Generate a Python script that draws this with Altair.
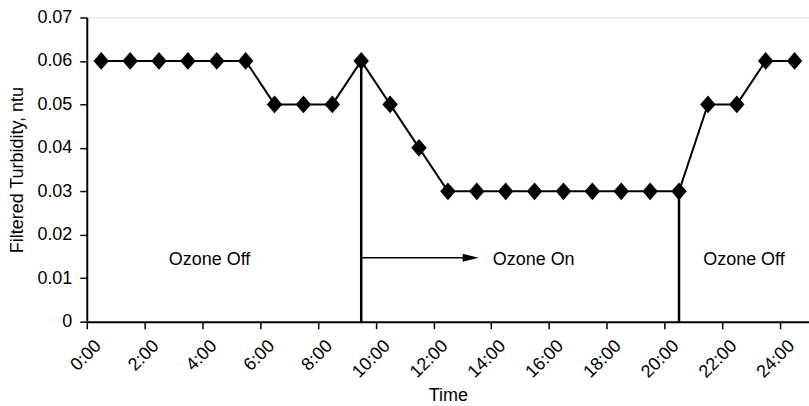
import altair as alt
import pandas as pd

hours = [0.5, 1.5, 2.5, 3.5, 4.5, 5.5, 6.5, 7.5, 8.5, 9.5, 10.5, 11.5, 12.5,
         13.5, 14.5, 15.5, 16.5, 17.5, 18.5, 19.5, 20.5, 21.5, 22.5, 23.5, 24.5]
turbidity = [0.06, 0.06, 0.06, 0.06, 0.06, 0.06, 0.05, 0.05, 0.05, 0.06, 0.05, 0.04, 0.03,
             0.03, 0.03, 0.03, 0.03, 0.03, 0.03, 0.03, 0.03, 0.05, 0.05, 0.06, 0.06]
tick_hours = list(range(0, 25))
y_ticks = [0, 0.01, 0.02, 0.03, 0.04, 0.05, 0.06, 0.07]

switch_x = [9.5, 20.5]
switch_top = [0.06, 0.03]

label_text = ["Ozone Off", "Ozone On", "Ozone Off"]
label_x = [4.25, 15.47, 22.75]
label_y = [0.0143, 0.0143, 0.0143]

arrow_start = 9.5
arrow_end = 13.29
arrow_y = 0.0147

FONT = "Liberation Sans"

df = pd.DataFrame({"h": hours, "t": turbidity})
sw = pd.DataFrame({"h": switch_x, "y0": [0, 0], "y1": switch_top})
lab = pd.DataFrame({"txt": label_text, "h": label_x, "y": label_y})
arr = pd.DataFrame({"h": [arrow_start], "h2": [arrow_end], "y": [arrow_y]})
head = pd.DataFrame({"h": [arrow_end], "y": [arrow_y]})

xscale = alt.Scale(domain=[0, 25], nice=False, zero=False)
yscale = alt.Scale(domain=[0, 0.07], nice=False)

xaxis = alt.Axis(
    title="Time", values=tick_hours, grid=False,
    labelExpr="datum.value % 2 == 0 ? format(datum.value, 'd') + ':00' : ''",
    labelAngle=-45, labelAlign="right", labelBaseline="top",
    labelFont=FONT, labelFontSize=18, labelColor="black", labelPadding=8, labelOffset=5,
    titleFont=FONT, titleFontSize=18, titleFontWeight="normal", titleColor="black",
    titlePadding=5,
    domainColor="black", domainWidth=2, tickColor="black", tickWidth=1.5, tickSize=7,
)
yaxis = alt.Axis(
    title="Filtered Turbidity, ntu", values=y_ticks, grid=False,
    labelExpr="datum.value == 0 ? '0' : format(datum.value, '.2f')",
    labelFont=FONT, labelFontSize=18, labelColor="black", labelPadding=8,
    titleFont=FONT, titleFontSize=18, titleFontWeight="normal", titleColor="black",
    titlePadding=10,
    domainColor="black", domainWidth=2, tickColor="black", tickWidth=1.5, tickSize=7,
)

line = alt.Chart(df).mark_line(color="black", strokeWidth=2).encode(
    x=alt.X("h:Q", scale=xscale, axis=xaxis),
    y=alt.Y("t:Q", scale=yscale, axis=yaxis),
)
pts = alt.Chart(df).mark_point(
    shape="M-1,0L0,-1.15L1,0L0,1.15Z", filled=True, color="black", opacity=1, size=240
).encode(x=alt.X("h:Q", scale=xscale), y=alt.Y("t:Q", scale=yscale))

vlines = alt.Chart(sw).mark_rule(color="black", strokeWidth=2.5).encode(
    x=alt.X("h:Q", scale=xscale), y=alt.Y("y0:Q", scale=yscale), y2="y1:Q"
)
arrow = alt.Chart(arr).mark_rule(color="black", strokeWidth=1.5).encode(
    x=alt.X("h:Q", scale=xscale), x2="h2:Q", y=alt.Y("y:Q", scale=yscale)
)
arrowhead = alt.Chart(head).mark_point(
    shape="M-1,-0.5L1,0L-1,0.5Z", filled=True, color="black", opacity=1, size=256
).encode(x=alt.X("h:Q", scale=xscale), y=alt.Y("y:Q", scale=yscale))

texts = alt.Chart(lab).mark_text(
    font=FONT, fontSize=18, color="black", align="center", baseline="middle"
).encode(x=alt.X("h:Q", scale=xscale), y=alt.Y("y:Q", scale=yscale), text="txt:N")

chart = alt.layer(vlines, arrow, arrowhead, line, pts, texts).properties(
    width=724, height=305,
    autosize=alt.AutoSizeParams(type="none"),
    padding={"left": 87, "top": 17, "right": 0, "bottom": 84},
).configure_view(stroke="black", strokeWidth=2).configure(background="white")

chart.save("out.html", embed_options={"renderer": "svg", "actions": False})
